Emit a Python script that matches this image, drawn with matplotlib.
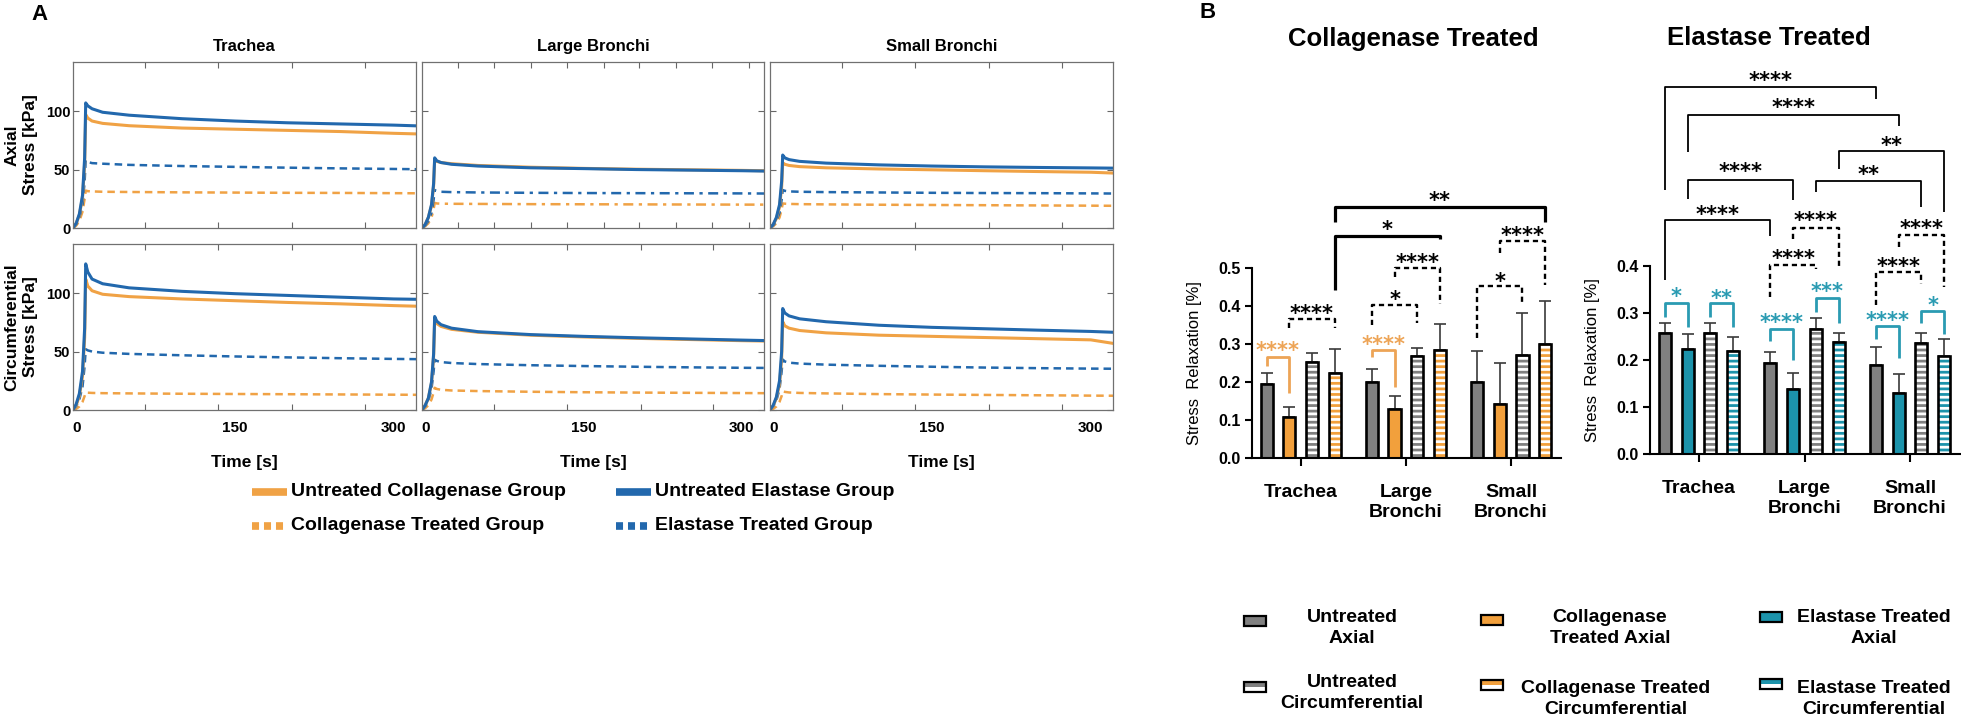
import numpy as np
import matplotlib
matplotlib.use("Agg")
from matplotlib import pyplot as plt
from matplotlib.lines import Line2D
from matplotlib.patches import Rectangle

plt.rcParams['font.family'] = ['Liberation Sans', 'DejaVu Sans']
plt.rcParams['hatch.linewidth'] = 2.0

W, H = 1961, 720

ORANGE = '#F0A245'
BLUE = '#2268AD'
GRAY = '#808080'
BAR_ORANGE = '#F2A03C'
TEAL = '#1C93AB'
STAR_ORANGE = '#EDA456'
STAR_TEAL = '#2A9BB2'

# ---------------- Panel A: stress relaxation curves ----------------
time_s = [-3, 0, 3, 6, 8, 9, 11, 15, 25, 50, 100, 150, 200, 250, 300, 321]
column_titles = ["Trachea", "Large Bronchi", "Small Bronchi"]

# rows: untreated collagenase, untreated elastase, collagenase treated, elastase treated [kPa]
trachea_axial = [
    [0, 4, 11, 26, 55, 97, 94, 91.5, 89.5, 87.5, 85.5, 84.5, 83.5, 82.5, 81, 80.5],
    [0, 4, 12, 28, 60, 107, 104.5, 102, 99, 96.5, 93.5, 91.5, 90, 89, 88, 87.4],
    [0, 2, 6, 14, 25, 32, 31.5, 31.3, 31, 30.8, 30.5, 30.3, 30.1, 30, 29.8, 29.7],
    [0, 3, 9, 20, 40, 58, 56.5, 55.5, 55, 54, 53, 52.3, 51.6, 51, 50.5, 50.3],
]
large_bronchi_axial = [
    [0, 3, 9, 19, 36, 58.5, 57, 56, 55, 53.5, 52, 51, 50.3, 49.8, 49.3, 49],
    [0, 3, 9, 20, 38, 60, 57.5, 56, 54.5, 53, 51.5, 50.8, 50, 49.5, 49, 48.7],
    [0, 1.5, 4, 9, 16, 21.5, 21, 20.8, 20.7, 20.6, 20.4, 20.3, 20.2, 20.1, 20, 20],
    [0, 2, 6, 13, 24, 32.5, 31.5, 31, 30.7, 30.4, 30.1, 29.9, 29.8, 29.7, 29.6, 29.5],
]
small_bronchi_axial = [
    [0, 3, 8, 18, 35, 55.8, 54.5, 53.5, 52.5, 51.5, 50.5, 49.8, 49, 48.3, 47.7, 47],
    [0, 3, 9, 20, 40, 62.4, 60, 58.5, 57, 55.5, 54, 53, 52.3, 51.8, 51.4, 51.2],
    [0, 1.5, 4, 9, 16, 21, 20.8, 20.6, 20.4, 20.2, 19.9, 19.7, 19.5, 19.3, 19.1, 19],
    [0, 2, 6, 13, 24, 32.5, 31.8, 31.3, 31, 30.7, 30.4, 30.1, 29.9, 29.8, 29.6, 29.5],
]
trachea_circ = [
    [0, 4, 12, 29, 62, 112, 106, 102, 99, 97, 95, 93.5, 92, 90.8, 89.3, 88.8],
    [0, 5, 14, 33, 70, 125, 118, 112, 108, 104.5, 101.5, 99.5, 98, 96.5, 95, 94.7],
    [0, 1, 3, 7, 12, 15, 14.8, 14.6, 14.4, 14.2, 13.9, 13.7, 13.5, 13.3, 13.1, 13],
    [0, 3, 9, 20, 38, 52, 51, 50, 49, 48, 46.8, 45.8, 45, 44.3, 43.7, 43.5],
]
large_bronchi_circ = [
    [0, 4, 10, 23, 46, 77, 74, 71.5, 69, 66.5, 64, 62.5, 61.3, 60.3, 59.3, 59],
    [0, 4, 10, 24, 48, 80, 76, 73, 70, 67, 64.5, 63, 61.8, 60.8, 59.8, 59.4],
    [0, 1.5, 4, 9, 15, 19, 18, 17.3, 16.7, 16.2, 15.6, 15.2, 14.9, 14.7, 14.5, 14.4],
    [0, 3, 8, 18, 33, 43, 42, 41, 40.2, 39.3, 38.3, 37.6, 37, 36.5, 36.1, 36],
]
small_bronchi_circ = [
    [0, 3.5, 10, 22, 44, 75.5, 72, 70, 68, 66, 64, 63, 62, 61, 60, 57],
    [0, 4, 11, 25, 50, 86.8, 83, 80.5, 78, 75.5, 72.5, 70.7, 69.5, 68.3, 67.2, 66.5],
    [0, 1, 3, 7, 12, 15.9, 15.5, 15, 14.6, 14.2, 13.6, 13.2, 12.9, 12.6, 12.3, 12.2],
    [0, 3, 8, 18, 33, 43.2, 41.5, 40.5, 39.7, 38.8, 37.8, 37, 36.3, 35.8, 35.4, 35.3],
]
curve_labels = ["Untreated Collagenase Group", "Untreated Elastase Group",
                "Collagenase Treated Group", "Elastase Treated Group"]

# ---------------- Panel B: stress relaxation bars ----------------
regions = ["Trachea", "Large\nBronchi", "Small\nBronchi"]

col_untreated_axial = [0.194, 0.201, 0.199]
col_untreated_axial_sd = [0.030, 0.032, 0.084]
col_treated_axial = [0.108, 0.128, 0.141]
col_treated_axial_sd = [0.025, 0.035, 0.108]
col_untreated_circ = [0.254, 0.268, 0.270]
col_untreated_circ_sd = [0.022, 0.021, 0.111]
col_treated_circ = [0.224, 0.284, 0.301]
col_treated_circ_sd = [0.063, 0.069, 0.113]

ela_untreated_axial = [0.256, 0.193, 0.188]
ela_untreated_axial_sd = [0.023, 0.024, 0.039]
ela_treated_axial = [0.224, 0.138, 0.129]
ela_treated_axial_sd = [0.031, 0.033, 0.040]
ela_untreated_circ = [0.256, 0.265, 0.235]
ela_untreated_circ_sd = [0.023, 0.023, 0.023]
ela_treated_circ = [0.219, 0.237, 0.208]
ela_treated_circ_sd = [0.029, 0.021, 0.036]

# (group, bar), (group, bar), bracket height, left end, right end, label, label height, style
col_brackets = [
    ((0, 0), (0, 1), 0.265, 0.242, 0.170, "****", 0.298, "orange"),
    ((0, 1), (0, 3), 0.365, 0.342, 0.342, "****", 0.397, "dash"),
    ((0, 3), (1, 3), 0.585, 0.443, 0.577, "*", 0.619, "bold"),
    ((0, 3), (2, 3), 0.661, 0.623, 0.623, "**", 0.695, "bold"),
    ((1, 0), (1, 1), 0.284, 0.265, 0.188, "****", 0.315, "orange"),
    ((1, 0), (1, 2), 0.403, 0.350, 0.357, "*", 0.434, "dash"),
    ((1, 1), (1, 3), 0.500, 0.478, 0.406, "****", 0.531, "dash"),
    ((2, 0), (2, 2), 0.453, 0.315, 0.408, "*", 0.482, "dash"),
    ((2, 1), (2, 3), 0.573, 0.540, 0.456, "****", 0.603, "dash"),
]
ela_brackets = [
    ((0, 0), (2, 0), 0.780, 0.561, 0.754, "****", 0.807, "thin"),
    ((0, 1), (2, 1), 0.721, 0.642, 0.697, "****", 0.748, "thin"),
    ((1, 3), (2, 3), 0.644, 0.605, 0.515, "**", 0.668, "thin"),
    ((0, 1), (1, 1), 0.583, 0.541, 0.539, "****", 0.612, "thin"),
    ((1, 2), (2, 2), 0.580, 0.556, 0.524, "**", 0.607, "thin"),
    ((0, 0), (1, 0), 0.496, 0.370, 0.463, "****", 0.522, "thin"),
    ((1, 1), (1, 3), 0.481, 0.456, 0.398, "****", 0.508, "dash"),
    ((1, 0), (1, 2), 0.401, 0.334, 0.394, "****", 0.428, "dash"),
    ((2, 1), (2, 3), 0.465, 0.439, 0.354, "****", 0.491, "dash"),
    ((2, 0), (2, 2), 0.386, 0.316, 0.361, "****", 0.412, "dash"),
    ((0, 0), (0, 1), 0.320, 0.292, 0.270, "*", 0.347, "teal"),
    ((0, 2), (0, 3), 0.320, 0.292, 0.270, "**", 0.343, "teal"),
    ((1, 0), (1, 1), 0.266, 0.239, 0.200, "****", 0.292, "teal"),
    ((1, 2), (1, 3), 0.331, 0.302, 0.279, "***", 0.357, "teal"),
    ((2, 0), (2, 1), 0.271, 0.244, 0.203, "****", 0.297, "teal"),
    ((2, 2), (2, 3), 0.304, 0.278, 0.254, "*", 0.329, "teal"),
]

bar_offsets = [-0.323, -0.108, 0.108, 0.323]
bar_width = 0.115


def main():
    fig = plt.figure(figsize=(W / 100, H / 100), dpi=100)

    def px_axes(left, top, right, bottom):
        return fig.add_axes([left / W, 1 - bottom / H, (right - left) / W, (bottom - top) / H])

    def ftext(x, y, s, **kw):
        return fig.text(x / W, 1 - y / H, s, **kw)

    # ---------- Panel A ----------
    ftext(40, 14, "A", fontsize=16, fontweight='bold', ha='center', va='center')
    col_edges = [(73, 416), (422, 764), (770, 1113)]
    row_edges = [(62, 228), (244, 410)]
    panels = [[trachea_axial, large_bronchi_axial, small_bronchi_axial],
              [trachea_circ, large_bronchi_circ, small_bronchi_circ]]
    styles = [(ORANGE, '-', 2.2), (BLUE, '-', 2.2), (ORANGE, (0, (3, 2)), 1.8), (BLUE, (0, (3, 2)), 1.8)]

    for r, (top, bottom) in enumerate(row_edges):
        for c, (left, right) in enumerate(col_edges):
            ax = px_axes(left, top, right, bottom)
            data = panels[r][c]
            for k in [2, 3, 0, 1]:
                color, ls, lw = styles[k]
                if r == 0 and c == 1 and k >= 2:
                    ls = (0, (4, 2.2, 1.3, 2.2))
                ax.plot(time_s, data[k], color=color, ls=ls, lw=lw)
            ax.set_xlim(-3, 321)
            ax.set_ylim(0, 142)
            ax.set_yticks([0, 50, 100])
            if c == 0:
                ax.set_yticklabels(["0", "50", "100"], fontsize=10.5, fontweight='bold')
            else:
                ax.set_yticklabels([])
            ax.tick_params(axis='y', direction='in', left=True, right=True, length=4,
                           width=0.8, color='#666666', pad=2)
            ax.set_xticks([0, 150, 300])
            if r == 1:
                ax.set_xticklabels(["0", "150", "300"], fontsize=11, fontweight='bold')
                ax.set_xlabel("Time [s]", fontsize=12.5, fontweight='bold', labelpad=14)
            else:
                ax.set_xticklabels([])
            ax.tick_params(axis='x', which='major', length=0, pad=8)
            if r == 0 and c == 1:
                minor = [31, 65, 100, 134, 169, 203, 238, 272, 307]
            else:
                minor = [65, 134, 204, 273]
            ax.set_xticks(minor, minor=True)
            ax.tick_params(axis='x', which='minor', direction='in', top=True, bottom=True,
                           length=4, width=0.8, color='#666666')
            for sp in ax.spines.values():
                sp.set_color('#707070')
                sp.set_linewidth(0.9)
            if r == 0:
                ax.set_title(column_titles[c], fontsize=12, fontweight='bold', pad=8)

    ftext(12, 145, "Axial", fontsize=12.5, fontweight='bold', rotation=90, ha='center', va='center')
    ftext(30, 145, "Stress [kPa]", fontsize=12.5, fontweight='bold', rotation=90, ha='center', va='center')
    ftext(12, 327, "Circumferential", fontsize=12.5, fontweight='bold', rotation=90, ha='center', va='center')
    ftext(30, 327, "Stress [kPa]", fontsize=12.5, fontweight='bold', rotation=90, ha='center', va='center')

    # legend of panel A
    legend_a = [(252, 492, 0), (616, 492, 1), (252, 526, 2), (616, 526, 3)]
    for x0, y0, k in legend_a:
        color = styles[k][0]
        ls = '-' if k < 2 else (0, (0.92, 0.65))
        fig.add_artist(Line2D([x0 / W, (x0 + 35) / W], [1 - y0 / H, 1 - y0 / H], color=color,
                              lw=5.5, ls=ls, solid_capstyle='butt', dash_capstyle='butt'))
        ftext(x0 + 39, y0, curve_labels[k], fontsize=14, fontweight='bold', ha='left', va='center')

    # ---------- Panel B ----------
    ftext(1208, 12, "B", fontsize=16, fontweight='bold', ha='center', va='center')

    charts = [
        dict(box=(1252, 1561), zero=457.7, ppu=378.7, top=0.75, ymax=0.5, group0=1300.7, gsp=105.2,
             title="Collagenase Treated", title_xy=(1413, 39), treat=BAR_ORANGE, star=STAR_ORANGE,
             series=[(col_untreated_axial, col_untreated_axial_sd), (col_treated_axial, col_treated_axial_sd),
                     (col_untreated_circ, col_untreated_circ_sd), (col_treated_circ, col_treated_circ_sd)],
             brackets=col_brackets, ylab_y=363),
        dict(box=(1650, 1960), zero=454.0, ppu=470.8, top=0.85, ymax=0.4, group0=1699, gsp=105.5,
             title="Elastase Treated", title_xy=(1769, 38), treat=TEAL, star=STAR_TEAL,
             series=[(ela_untreated_axial, ela_untreated_axial_sd), (ela_treated_axial, ela_treated_axial_sd),
                     (ela_untreated_circ, ela_untreated_circ_sd), (ela_treated_circ, ela_treated_circ_sd)],
             brackets=ela_brackets, ylab_y=360),
    ]

    x = np.arange(len(regions))
    for ch in charts:
        left, right = ch['box']
        top_px = ch['zero'] - ch['top'] * ch['ppu']
        ax = px_axes(left, top_px, right, ch['zero'])
        ax.set_ylim(0, ch['top'])
        ax.set_xlim((left - ch['group0']) / ch['gsp'], (right - ch['group0']) / ch['gsp'])
        colors = [GRAY, ch['treat'], GRAY, ch['treat']]
        for i, (means, sds) in enumerate(ch['series']):
            xs = x + bar_offsets[i]
            if i >= 2:
                ax.bar(xs, means, bar_width, color=colors[i], edgecolor='white', hatch='---', lw=0, zorder=2)
            else:
                ax.bar(xs, means, bar_width, color=colors[i], lw=0, zorder=2)
            ax.bar(xs, means, bar_width, fill=False, edgecolor='black', lw=1.9, zorder=3)
            ax.errorbar(xs, means, yerr=[np.zeros(len(sds)), sds], fmt='none', ecolor='#3a3a3a',
                        elinewidth=1.2, capsize=4, capthick=1.2, zorder=1)

        for sp in ['top', 'right']:
            ax.spines[sp].set_visible(False)
        ax.spines['left'].set_bounds(0, ch['ymax'])
        ax.spines['left'].set_linewidth(1.5)
        ax.spines['bottom'].set_linewidth(1.5)
        yt = np.round(np.arange(0, ch['ymax'] + 0.001, 0.1), 1)
        ax.set_yticks(yt)
        ax.set_yticklabels([f"{v:.1f}" for v in yt], fontsize=11.5, fontweight='bold')
        ax.tick_params(axis='y', length=5, width=1.5, pad=3)
        ax.set_xticks(x)
        ax.set_xticklabels(regions, fontsize=14, fontweight='bold')
        ax.tick_params(axis='x', length=6, width=1.5, pad=13)
        ax.set_ylabel("Stress  Relaxation [%]", fontsize=12)
        ax.yaxis.set_label_coords(-50 / (right - left),
                                  (ch['zero'] - ch['ylab_y']) / (ch['zero'] - top_px))

        ftext(ch['title_xy'][0], ch['title_xy'][1], ch['title'], fontsize=18.5,
              fontweight='bold', ha='center', va='center')

        # significance brackets
        for (ga, ba), (gb, bb), yb, ya_end, yb_end, label, ty, kind in ch['brackets']:
            xa = ga + bar_offsets[ba]
            xb = gb + bar_offsets[bb]
            if kind == 'orange':
                color, ls, lw, tcolor = STAR_ORANGE, '-', 2.0, STAR_ORANGE
            elif kind == 'teal':
                color, ls, lw, tcolor = STAR_TEAL, '-', 2.0, STAR_TEAL
            elif kind == 'dash':
                color, ls, lw, tcolor = 'black', (0, (2.2, 1.6)), 1.7, 'black'
            elif kind == 'bold':
                color, ls, lw, tcolor = 'black', '-', 2.3, 'black'
            else:
                color, ls, lw, tcolor = 'black', '-', 1.3, 'black'
            ax.plot([xa, xa, xb, xb], [ya_end, yb, yb, yb_end], color=color, ls=ls, lw=lw,
                    clip_on=False, solid_capstyle='butt', dash_capstyle='butt', zorder=4)
            ax.annotate(label, ((xa + xb) / 2, ty), xytext=(0, -9), textcoords='offset points',
                        ha='center', va='baseline', fontsize=15, fontweight='bold',
                        family='DejaVu Sans', color=tcolor, annotation_clip=False)

    # legend of panel B
    legend_b = [
        (1244, 621, GRAY, False, "Untreated\nAxial", 1352, 628),
        (1481, 620, BAR_ORANGE, False, "Collagenase\nTreated Axial", 1610, 628),
        (1760, 617, TEAL, False, "Elastase Treated\nAxial", 1874, 628),
        (1244, 687, GRAY, True, "Untreated\nCircumferential", 1352, 693),
        (1481, 685, BAR_ORANGE, True, "Collagenase Treated\nCircumferential", 1616, 699),
        (1760, 684, TEAL, True, "Elastase Treated\nCircumferential", 1874, 699),
    ]
    for hx, hy, color, striped, label, tx, ty in legend_b:
        w, h = 22, 10
        if striped:
            fig.add_artist(Rectangle((hx / W, 1 - hy / H), w / W, h / 2 / H, transform=fig.transFigure,
                                     facecolor=color, lw=0))
            fig.add_artist(Rectangle((hx / W, 1 - (hy + h / 2) / H), w / W, h / 2 / H,
                                     transform=fig.transFigure, facecolor='white', lw=0))
        else:
            fig.add_artist(Rectangle((hx / W, 1 - (hy + h / 2) / H), w / W, h / H,
                                     transform=fig.transFigure, facecolor=color, lw=0))
        fig.add_artist(Rectangle((hx / W, 1 - (hy + h / 2) / H), w / W, h / H, transform=fig.transFigure,
                                 fill=False, edgecolor='black', lw=1.6))
        ftext(tx, ty, label, fontsize=14, fontweight='bold', ha='center', va='center',
              multialignment='center', linespacing=1.25)

    fig.savefig("out.png", dpi=100)


if __name__ == "__main__":
    main()
